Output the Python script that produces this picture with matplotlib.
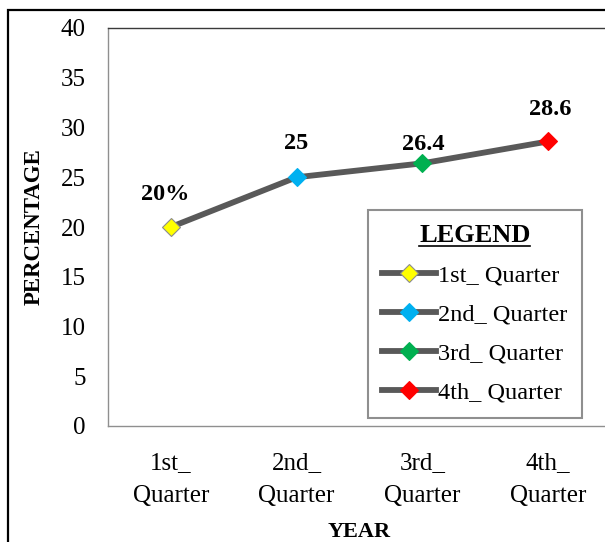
import matplotlib.pyplot as plt
from matplotlib.patches import Rectangle
from matplotlib.lines import Line2D

quarters = ['1st_\nQuarter', '2nd_\nQuarter', '3rd_\nQuarter', '4th_\nQuarter']
legend_names = ['1st_ Quarter', '2nd_ Quarter', '3rd_ Quarter', '4th_ Quarter']
percentage = [20, 25, 26.4, 28.6]
value_labels = ['20%', '25', '26.4', '28.6']
marker_colors = ['#FFFF00', '#00B0F0', '#00B050', '#FF0000']
label_offsets = [(-6, 22), (-1, 23), (1, 8), (2, 21)]

plt.rcParams['font.family'] = ['Liberation Serif', 'DejaVu Serif']

fig = plt.figure(figsize=(6.05, 5.42), dpi=100)
ax = fig.add_axes([108 / 605, 1 - 426 / 542, 1 - 108 / 605 + 0.01, 398 / 542])

x = list(range(len(quarters)))
ax.plot(x, percentage, color='#595959', lw=4.2, zorder=2)
for i, (v, c, name) in enumerate(zip(percentage, marker_colors, legend_names)):
    ax.plot([i], [v], marker='D', ms=9, color='#595959', lw=4.2,
            mfc=c, mec='#8c8c8c' if c == '#FFFF00' else c, mew=0.8,
            linestyle='-', label=name, zorder=3)
    ax.annotate(value_labels[i], (i, v), xytext=label_offsets[i],
                textcoords='offset pixels', ha='center', va='bottom',
                fontsize=17.5, fontweight='bold')

ax.set_xlim(-0.5, 3.5)
ax.set_ylim(0, 40)
ax.set_yticks(range(0, 41, 5))
ax.set_xticks(x)
ax.set_xticklabels(quarters, fontsize=18, linespacing=1.65)
ax.tick_params(axis='y', length=0, pad=16, labelsize=18)
ax.tick_params(axis='x', length=0, pad=19)

for side in ['left', 'bottom', 'top']:
    ax.spines[side].set_color('#8f8f8f')
    ax.spines[side].set_linewidth(1)
ax.spines['top'].set_color('#3a3a3a')
ax.spines['right'].set_visible(False)

ax.set_ylabel('PERCENTAGE', fontsize=16.5, fontweight='bold')
ax.yaxis.set_label_coords(-0.126, 0.5)
ax.set_xlabel('YEAR', fontsize=16, fontweight='bold')
ax.xaxis.set_label_coords(0.5, -0.24)

leg = ax.legend(loc='lower right', bbox_to_anchor=(0.942, 0.02),
                borderaxespad=0,
                title='LEGEND', fontsize=17.5, handlelength=2.2,
                handletextpad=0.1, labelspacing=0.7, borderpad=0.6,
                fancybox=False, edgecolor='#8f8f8f', framealpha=1,
                title_fontproperties={'size': 19, 'weight': 'bold'})
leg.get_frame().set_linewidth(1.5)

# border around the whole figure
fig.patches.append(Rectangle((8 / 605, -0.2), 1.2, 1.2 - 10 / 542,
                             transform=fig.transFigure, fill=False,
                             edgecolor='black', lw=1.6))

# underline the legend title
fig.canvas.draw()
bb = leg.get_title().get_window_extent()
y = bb.y0 + 1
fig.lines.append(Line2D([bb.x0 / 605, bb.x1 / 605], [y / 542, y / 542],
                        transform=fig.transFigure, color='black', lw=1.2))

fig.savefig('out.png', dpi=100)
